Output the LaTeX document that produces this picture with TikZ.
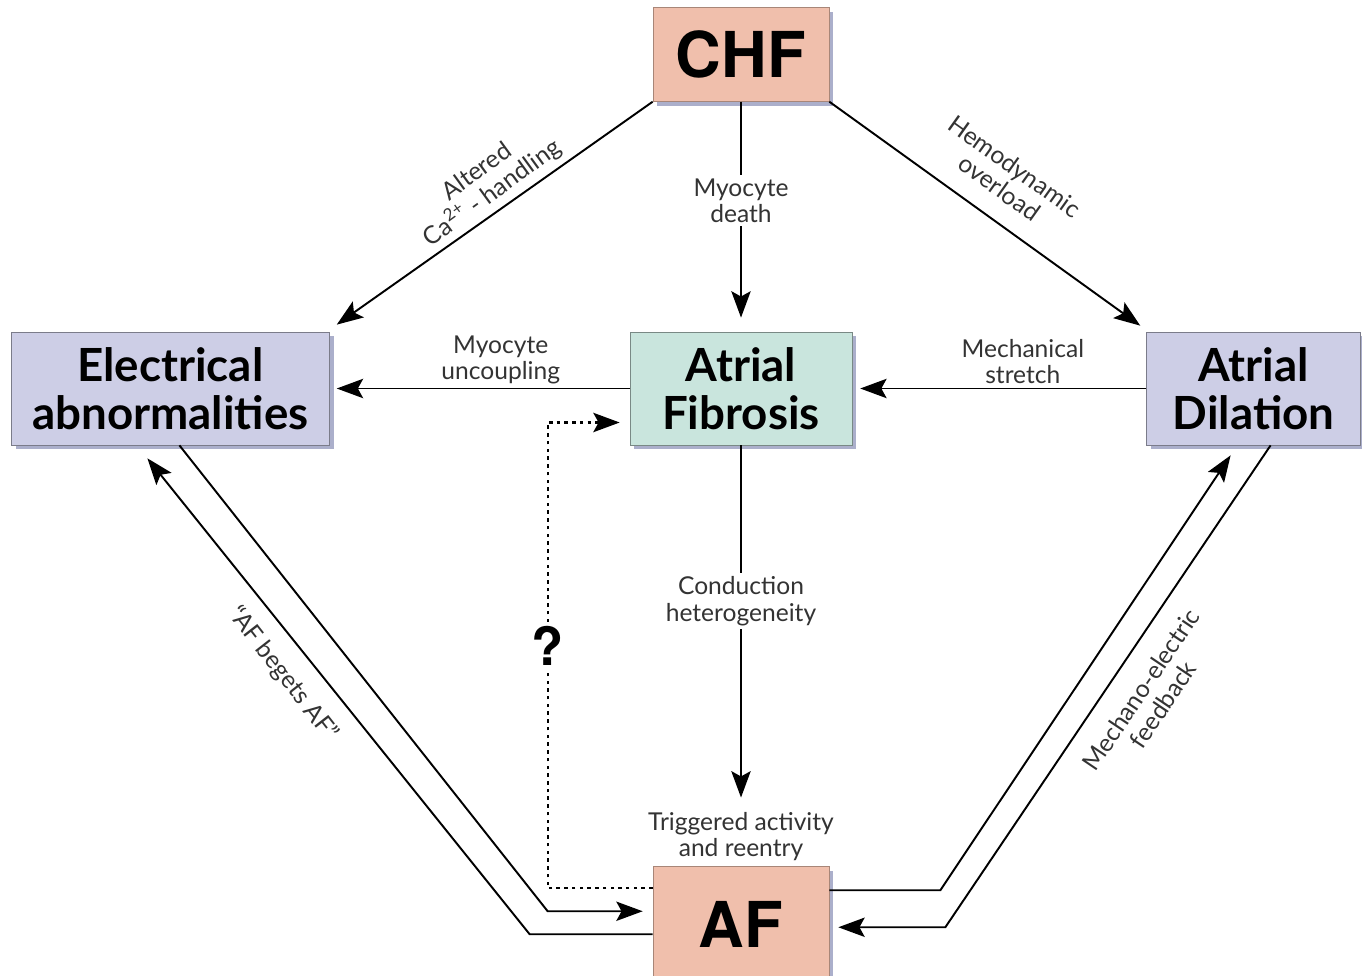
\documentclass[tikz,border=0pt]{standalone}
\usepackage{fontspec}
\setmainfont{Lato}
\newfontfamily\heros{TeX Gyre Heros}
\usepackage{tikz}
\usetikzlibrary{arrows.meta, positioning, calc, shadows}

\definecolor{chfpink}{RGB}{240,191,172}
\definecolor{boxlav}{RGB}{205,206,230}
\definecolor{fibgreen}{RGB}{201,229,221}
\definecolor{shadowgray}{RGB}{150,155,190}

\begin{document}
\begin{tikzpicture}[x=0.02cm, y=-0.02cm,
    mainbox/.style={rectangle,draw=chfpink!70!black,line width=0.4pt,fill=chfpink,
        minimum width=3.52cm,minimum height=1.88cm,
        font=\heros\bfseries\fontsize{36}{36}\selectfont,
        drop shadow={shadow xshift=2.5pt,shadow yshift=-2.5pt,fill=shadowgray,opacity=0.8}},
    sidebox/.style={rectangle,draw=boxlav!60!black,line width=0.4pt,fill=boxlav,
        align=center,minimum height=2.26cm,
        font=\bfseries\fontsize{26}{27}\selectfont,
        drop shadow={shadow xshift=2.5pt,shadow yshift=-2.5pt,fill=shadowgray,opacity=0.8}},
    fibbox/.style={sidebox,fill=fibgreen,draw=fibgreen!60!black},
    lbl/.style={align=center,font=\fontsize{14}{15}\selectfont,text=black!80,inner sep=2pt},
    arrow/.style={-{Stealth[length=15pt,width=11pt,inset=3pt]},line width=1.1pt},
    dotarrow/.style={arrow,line width=1.3pt,dash pattern=on 2pt off 2.4pt},
    qmark/.style={font=\heros\bfseries\fontsize{30}{30}\selectfont,fill=white,inner sep=2pt}
]
\useasboundingbox (0,0) rectangle (1362,976);

% boxes: middle row first, CHF above, AF below
\node[fibbox, minimum width=4.44cm] (fib) at (741,388.5) {Atrial\\Fibrosis};
\node[sidebox, minimum width=6.36cm, left=6cm of fib] (elec) {Electrical\\abnormalities};
\node[sidebox, minimum width=4.28cm, right=5.88cm of fib] (dil) {Atrial\\Dilation};
\node[mainbox, above=4.6cm of fib] (chf) {CHF};
\node[mainbox, minimum height=2.3cm, below=8.42cm of fib] (af) {AF};
\node[lbl, above=1pt of af] (trig) {Triggered activity\\and reentry};

% from CHF
\draw[arrow] (chf.south west) -- ($(elec.north east)+(7,-7)$);
\node[lbl, rotate=36] (calbl) at (485,183) {Altered\\Ca\textsuperscript{2+} - handling};
\draw[arrow] (chf.south east) -- ($(dil.north west)+(-6,-6)$);
\node[lbl, rotate=-35.5] (hemlbl) at (1007,177) {Hemodynamic\\overload};
\draw[arrow, shorten >=8pt] (chf) -- node[lbl, fill=white, pos=0.43] {Myocyte\\death} (fib);

% middle row
\draw[arrow, shorten >=4pt] (fib) -- node[lbl, above, pos=0.43] {Myocyte\\uncoupling} (elec);
\draw[arrow, shorten >=4.5pt] (dil) -- node[lbl, above, pos=0.42] {Mechanical\\stretch} (fib);
\draw[arrow, shorten >=6pt] (fib) -- node[lbl, fill=white, pos=0.43] {Conduction\\heterogeneity} (trig);

% unknown link AF -> fibrosis
\draw[dotarrow] ($(af.north west)+(0,22)$) -| ($(fib.west)+(-82,34)$) -- ($(fib.west)+(-10,34)$);
\node[qmark] (q) at ($(fib.west)+(-82,257)$) {?};

% AF <-> electrical abnormalities
\draw[arrow] ($(elec.south)+(9,0)$) -- ($(af.north west)+(-105,45)$) -- ($(af.north west)+(-10,45)$);
\draw[arrow] ($(af.north west)+(0,68)$) -- ($(af.north west)+(-123,68)$) -- ($(elec.south)+(-23,13)$);
\node[lbl, rotate=-52] (beget) at (283,674) {“AF begets AF”};

% AF <-> atrial dilation
\draw[arrow] ($(af.north east)+(0,24)$) -- ($(af.north east)+(111,24)$) -- ($(dil.south)+(-23,10)$);
\draw[arrow] ($(dil.south)+(17,0)$) -- ($(af.north east)+(116,61)$) -- ($(af.north east)+(9,61)$);
\node[lbl, rotate=56] (mef) at (1152,697) {Mechano-electric\\feedback};
\end{tikzpicture}
\end{document}
